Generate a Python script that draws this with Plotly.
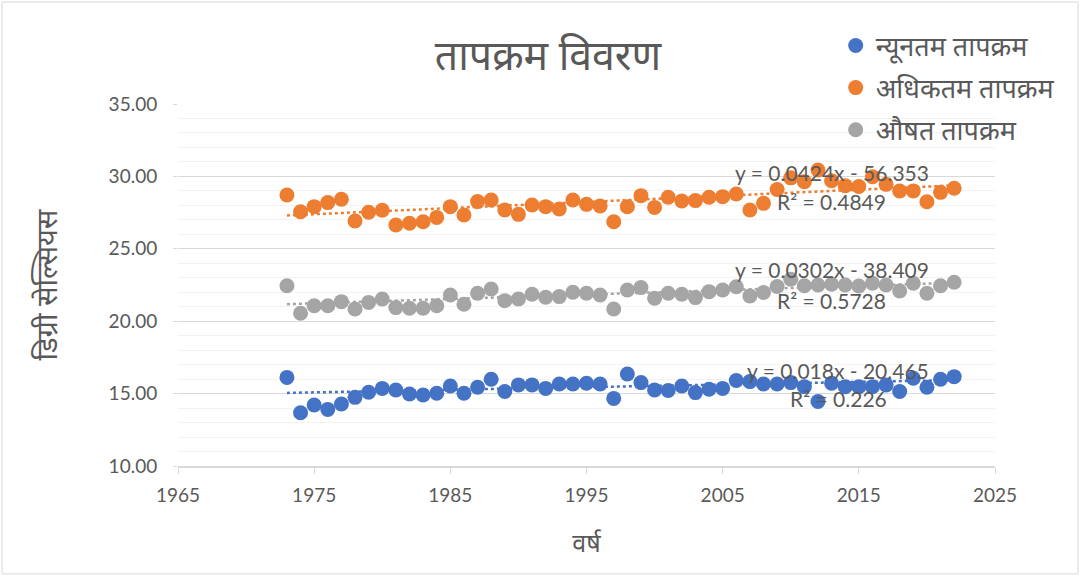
import plotly.graph_objects as go

years = list(range(1973, 2023))

min_temp = [16.12, 13.68, 14.21, 13.91, 14.28, 14.74, 15.09, 15.36, 15.25, 14.97,
            14.90, 15.02, 15.53, 15.02, 15.44, 15.99, 15.14, 15.60, 15.60, 15.36,
            15.66, 15.66, 15.71, 15.66, 14.67, 16.35, 15.76, 15.25, 15.21, 15.53,
            15.07, 15.30, 15.36, 15.90, 15.83, 15.66, 15.66, 15.76, 15.48, 14.45,
            15.71, 15.48, 15.48, 15.48, 15.60, 15.14, 16.06, 15.44, 15.99, 16.17]

max_temp = [28.72, 27.56, 27.91, 28.19, 28.42, 26.92, 27.52, 27.66, 26.64, 26.76,
            26.87, 27.17, 27.91, 27.33, 28.26, 28.37, 27.68, 27.38, 28.02, 27.91,
            27.75, 28.37, 28.07, 27.96, 26.87, 27.91, 28.67, 27.86, 28.56, 28.30,
            28.33, 28.56, 28.60, 28.78, 27.68, 28.14, 29.10, 29.90, 29.63, 30.44,
            29.70, 29.36, 29.30, 29.98, 29.45, 28.99, 29.00, 28.25, 28.90, 29.18]

avg_temp = [22.45, 20.55, 21.07, 21.07, 21.35, 20.84, 21.30, 21.53, 20.94, 20.89,
            20.89, 21.07, 21.81, 21.17, 21.93, 22.22, 21.42, 21.53, 21.86, 21.65,
            21.70, 22.00, 21.93, 21.81, 20.84, 22.15, 22.32, 21.59, 21.93, 21.86,
            21.63, 22.04, 22.15, 22.38, 21.74, 21.98, 22.40, 22.90, 22.45, 22.50,
            22.55, 22.50, 22.43, 22.62, 22.50, 22.09, 22.62, 21.93, 22.45, 22.69]

series_names = ["न्यूनतम तापक्रम", "अधिकतम तापक्रम", "औषत तापक्रम"]
series_colors = ["#4472C4", "#ED7D31", "#A5A5A5"]
trend_slope = [0.018, 0.0424, 0.0302]
trend_intercept = [-20.465, -56.353, -38.409]
trend_eq = ["y = 0.018x - 20.465", "y = 0.0424x - 56.353", "y = 0.0302x - 38.409"]
trend_r2 = ["R² = 0.226", "R² = 0.4849", "R² = 0.5728"]

title_text = "तापक्रम विवरण"
x_title = "वर्ष"
y_title = "डिग्री सेल्सियस"

FONT = "Lato, 'Noto Sans', sans-serif"
TXT = "#595959"

fig = go.Figure()
all_series = [min_temp, max_temp, avg_temp]

for i, vals in enumerate(all_series):
    fig.add_trace(go.Scatter(
        x=years, y=vals, mode="markers", name=series_names[i],
        legendgroup=f"g{i}",
        marker=dict(color=series_colors[i], size=15, line=dict(width=0)),
    ))
for i, vals in enumerate(all_series):
    tx = [years[0], years[-1]]
    ty = [trend_slope[i] * x + trend_intercept[i] for x in tx]
    fig.add_trace(go.Scatter(
        x=tx, y=ty, mode="lines", showlegend=False, hoverinfo="skip",
        line=dict(color=series_colors[i], width=2.5, dash="dot"),
    ))

# trendline labels (positions in data coords)
eq_pos = [(2013.5, 16.63, 14.63), (2013.0, 30.25, 28.25), (2013.0, 23.54, 21.46)]
for i, (xp, ye, yr) in enumerate(eq_pos):
    fig.add_annotation(x=xp, y=ye, text=trend_eq[i], showarrow=False,
                       font=dict(family=FONT, size=21, color=TXT))
    fig.add_annotation(x=xp, y=yr, text=trend_r2[i], showarrow=False,
                       font=dict(family=FONT, size=21, color=TXT))

fig.update_layout(
    width=1081, height=577,
    margin=dict(l=178, r=86, t=104, b=111),
    paper_bgcolor="white", plot_bgcolor="white",
    font=dict(family=FONT, color=TXT),
    title=dict(text=title_text, x=0.507, xref="container", y=0.903, yref="container",
               xanchor="center", yanchor="middle",
               font=dict(size=41, color=TXT)),
    showlegend=True,
    legend=dict(x=0.805, y=1.228, xanchor="left", yanchor="top",
                font=dict(size=27, color=TXT), bgcolor="rgba(0,0,0,0)",
                traceorder="grouped", tracegroupgap=4, itemwidth=30),
    xaxis=dict(range=[1965, 2025], dtick=10, tick0=1965, showgrid=False,
               showline=True, linecolor="#D9D9D9", linewidth=1.5,
               ticks="outside", ticklen=6, tickcolor="#D9D9D9",
               ticklabelstandoff=5,
               tickfont=dict(size=19, color=TXT), zeroline=False,
               title=dict(text=x_title, font=dict(size=25, color=TXT), standoff=30)),
    yaxis=dict(range=[10, 35], dtick=5, tickformat=".2f", showgrid=True,
               gridcolor="#D9D9D9", gridwidth=1.2, showline=False, zeroline=False,
               ticks="outside", ticklen=4, tickcolor="#D9D9D9",
               ticklabelstandoff=12,
               tickfont=dict(size=19, color=TXT),
               minor=dict(dtick=1, showgrid=True, gridcolor="#F2F2F2", gridwidth=1),
               title=dict(text=y_title, font=dict(size=29, color=TXT), standoff=42)),
    shapes=[dict(type="rect", xref="paper", yref="paper",
                 x0=-0.2154, x1=1.1016, y0=-0.298, y1=1.2818,
                 line=dict(color="#D9D9D9", width=1), fillcolor="rgba(0,0,0,0)",
                 layer="below")],
)

fig.write_html("out.html", post_script="document.body.style.margin='0';",
               config={"displayModeBar": False})
